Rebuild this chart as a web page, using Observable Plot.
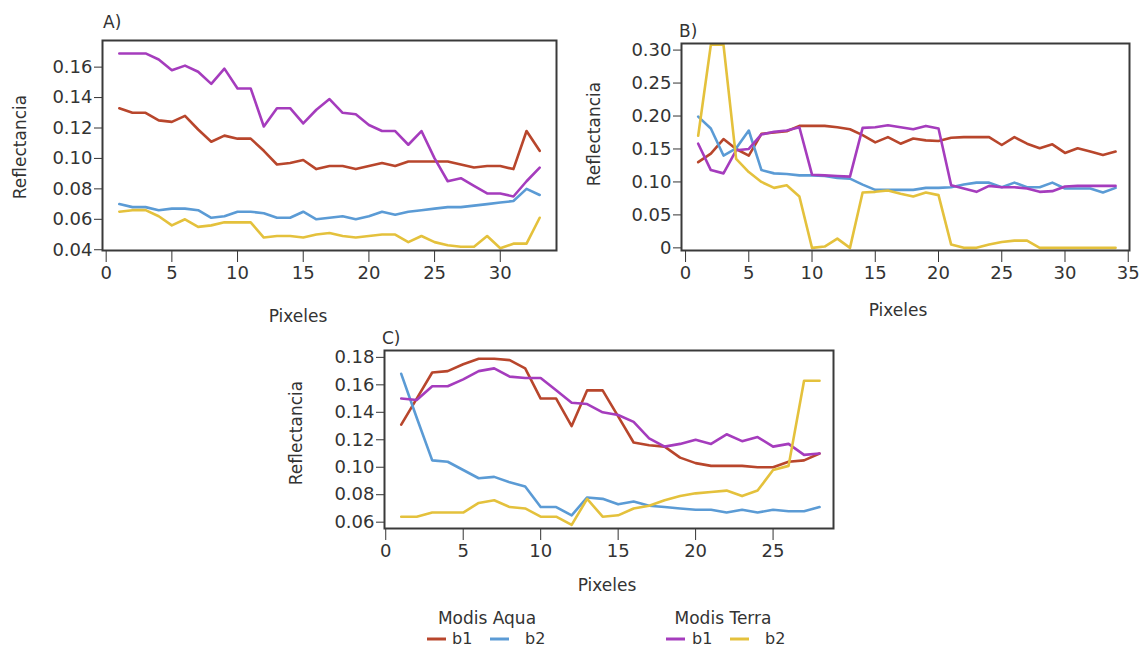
<!DOCTYPE html>
<html>
<head>
<meta charset="utf-8">
<script src="https://cdn.jsdelivr.net/npm/d3@7"></script>
<script src="https://cdn.jsdelivr.net/npm/@observablehq/plot@0.6"></script>
<style>
  html, body { margin: 0; padding: 0; background: #fff; }
  #root { position: relative; width: 1142px; height: 650px; overflow: hidden; font-family: "DejaVu Sans", Verdana, sans-serif; }
  .panel { position: absolute; }
  .panel svg { max-width: none !important; overflow: visible; }
  #overlay { position: absolute; left: 0; top: 0; pointer-events: none; }
</style>
</head>
<body>
<div id="root"></div>
<script>
// ---------------- DATA ----------------
const seriesKeys = ["Aqua b1", "Aqua b2", "Terra b1", "Terra b2"];
const seriesColors = ["#b8462c", "#5b9bd5", "#a53cbd", "#e4c13c"];

// Panel A
const pixelsA = [1,2,3,4,5,6,7,8,9,10,11,12,13,14,15,16,17,18,19,20,21,22,23,24,25,26,27,28,29,30,31,32,33];
const aquaB1_A = [0.133,0.130,0.130,0.125,0.124,0.128,0.119,0.111,0.115,0.113,0.113,0.105,0.096,0.097,0.099,0.093,0.095,0.095,0.093,0.095,0.097,0.095,0.098,0.098,0.098,0.098,0.096,0.094,0.095,0.095,0.093,0.118,0.105];
const aquaB2_A = [0.070,0.068,0.068,0.066,0.067,0.067,0.066,0.061,0.062,0.065,0.065,0.064,0.061,0.061,0.065,0.060,0.061,0.062,0.060,0.062,0.065,0.063,0.065,0.066,0.067,0.068,0.068,0.069,0.070,0.071,0.072,0.080,0.076];
const terraB1_A = [0.169,0.169,0.169,0.165,0.158,0.161,0.157,0.149,0.159,0.146,0.146,0.121,0.133,0.133,0.123,0.132,0.139,0.130,0.129,0.122,0.118,0.118,0.109,0.118,0.100,0.085,0.087,0.082,0.077,0.077,0.075,0.085,0.094];
const terraB2_A = [0.065,0.066,0.066,0.062,0.056,0.060,0.055,0.056,0.058,0.058,0.058,0.048,0.049,0.049,0.048,0.050,0.051,0.049,0.048,0.049,0.050,0.050,0.045,0.049,0.045,0.043,0.042,0.042,0.049,0.041,0.044,0.044,0.061];

// Panel B
const pixelsB = [1,2,3,4,5,6,7,8,9,10,11,12,13,14,15,16,17,18,19,20,21,22,23,24,25,26,27,28,29,30,31,32,33,34];
const aquaB1_B = [0.130,0.143,0.165,0.150,0.140,0.173,0.175,0.177,0.185,0.185,0.185,0.183,0.180,0.171,0.160,0.168,0.158,0.166,0.163,0.162,0.167,0.168,0.168,0.168,0.156,0.168,0.158,0.151,0.157,0.144,0.151,0.146,0.141,0.146];
const aquaB2_B = [0.199,0.181,0.140,0.151,0.178,0.118,0.113,0.112,0.110,0.110,0.109,0.106,0.105,0.096,0.088,0.088,0.088,0.088,0.091,0.091,0.092,0.096,0.099,0.099,0.092,0.099,0.092,0.092,0.099,0.090,0.090,0.090,0.084,0.091];
const terraB1_B = [0.158,0.118,0.113,0.148,0.150,0.172,0.176,0.178,0.183,0.111,0.110,0.109,0.108,0.182,0.183,0.186,0.183,0.180,0.185,0.181,0.095,0.090,0.085,0.094,0.092,0.092,0.090,0.085,0.086,0.093,0.094,0.094,0.094,0.094];
const terraB2_B = [0.170,0.308,0.308,0.135,0.115,0.100,0.091,0.095,0.078,0.000,0.002,0.014,0.000,0.084,0.085,0.087,0.082,0.078,0.084,0.080,0.005,0.000,0.000,0.005,0.009,0.011,0.011,0.000,0.000,0.000,0.000,0.000,0.000,0.000];

// Panel C
const pixelsC = [1,2,3,4,5,6,7,8,9,10,11,12,13,14,15,16,17,18,19,20,21,22,23,24,25,26,27,28];
const aquaB1_C = [0.131,0.150,0.169,0.170,0.175,0.179,0.179,0.178,0.172,0.150,0.150,0.130,0.156,0.156,0.137,0.118,0.116,0.115,0.107,0.103,0.101,0.101,0.101,0.100,0.100,0.104,0.105,0.110];
const aquaB2_C = [0.168,0.136,0.105,0.104,0.098,0.092,0.093,0.089,0.086,0.071,0.071,0.065,0.078,0.077,0.073,0.075,0.072,0.071,0.070,0.069,0.069,0.067,0.069,0.067,0.069,0.068,0.068,0.071];
const terraB1_C = [0.150,0.149,0.159,0.159,0.164,0.170,0.172,0.166,0.165,0.165,0.156,0.147,0.146,0.140,0.138,0.133,0.121,0.115,0.117,0.120,0.117,0.124,0.119,0.122,0.115,0.117,0.109,0.110];
const terraB2_C = [0.064,0.064,0.067,0.067,0.067,0.074,0.076,0.071,0.070,0.064,0.064,0.058,0.077,0.064,0.065,0.070,0.072,0.076,0.079,0.081,0.082,0.083,0.079,0.083,0.098,0.101,0.163,0.163];

// Tick values
const xTicksA = [0,5,10,15,20,25,30];
const yTicksA = [0.04,0.06,0.08,0.10,0.12,0.14,0.16];
const xTicksB = [0,5,10,15,20,25,30,35];
const yTicksB = [0,0.05,0.10,0.15,0.20,0.25,0.30];
const xTicksC = [0,5,10,15,20,25];
const yTicksC = [0.06,0.08,0.10,0.12,0.14,0.16,0.18];

// Texts
const panelLetters = ["A)", "B)", "C)"];
const yLabel = "Reflectancia";
const xLabel = "Pixeles";
const legendGroups = ["Modis Aqua", "Modis Terra"];
const legendItems = ["b1", "b2"];

// ---------------- DRAW ----------------
const root = document.getElementById("root");
const FONT = "DejaVu Sans, Verdana, sans-serif";
const TXT = "#333";

function toRows(xs, arrays) {
  const rows = [];
  arrays.forEach((arr, k) => arr.forEach((v, i) => rows.push({x: xs[i], y: v, key: seriesKeys[k]})));
  return rows;
}

function makePanel(o) {
  const rows = toRows(o.xs, o.arrays);
  const fmt2 = d3.format(".2f");
  const svg = Plot.plot({
    width: o.width, height: o.height,
    marginLeft: o.ml, marginRight: o.mr, marginTop: o.mt, marginBottom: o.mb,
    style: {fontFamily: FONT, fontSize: "18px", color: TXT, background: "transparent", overflow: "visible"},
    x: {domain: o.xDomain, ticks: o.xTicks, tickSize: 12, tickPadding: 4, label: null, tickFormat: d => String(d)},
    y: {domain: o.yDomain, ticks: o.yTicks, tickSize: 8, tickPadding: 2, label: null,
        tickFormat: d => (d === 0 ? "0" : fmt2(d))},
    color: {domain: seriesKeys, range: seriesColors},
    marks: [
      Plot.line(rows, {x: "x", y: "y", z: "key", stroke: "key", strokeWidth: 2.6, strokeLinejoin: "round", strokeLinecap: "round"}),
      Plot.frame({stroke: "#3a3a3a", strokeWidth: 2})
    ]
  });
  const div = document.createElement("div");
  div.className = "panel";
  div.style.left = o.left + "px";
  div.style.top = o.top + "px";
  div.style.width = o.width + "px";
  div.style.height = o.height + "px";
  div.appendChild(svg);
  root.appendChild(div);
}

// Panel A: frame x 102..556, y 40..250
makePanel({left: 0, top: 0, width: 580, height: 300, ml: 102, mr: 24, mt: 40, mb: 50,
  xs: pixelsA, arrays: [aquaB1_A, aquaB2_A, terraB1_A, terraB2_A],
  xDomain: [-0.28, 34.28], yDomain: [0.0395, 0.1775], xTicks: xTicksA, yTicks: yTicksA});

// Panel B: frame x 681..1129, y 43..250
makePanel({left: 580, top: 0, width: 562, height: 300, ml: 101, mr: 13, mt: 43, mb: 50,
  xs: pixelsB, arrays: [aquaB1_B, aquaB2_B, terraB1_B, terraB2_B],
  xDomain: [-0.32, 35.1], yDomain: [-0.004, 0.31], xTicks: xTicksB, yTicks: yTicksB});

// Panel C: frame x 384..833, y 350..528
makePanel({left: 280, top: 300, width: 570, height: 280, ml: 104, mr: 17, mt: 50, mb: 52,
  xs: pixelsC, arrays: [aquaB1_C, aquaB2_C, terraB1_C, terraB2_C],
  xDomain: [-0.08, 28.9], yDomain: [0.0554, 0.185], xTicks: xTicksC, yTicks: yTicksC});

// Overlay texts and legend
const ov = d3.select(root).append("svg").attr("id", "overlay")
  .attr("width", 1142).attr("height", 650)
  .attr("font-family", FONT).attr("fill", TXT);

const letterPos = [[103, 28], [679, 37], [382, 344]];
panelLetters.forEach((t, i) => ov.append("text").attr("x", letterPos[i][0]).attr("y", letterPos[i][1])
  .attr("font-size", 17).text(t));

const yLabPos = [[20, 147], [594, 134], [296, 433]];
yLabPos.forEach(([cx, cy]) => ov.append("text")
  .attr("transform", `translate(${cx},${cy}) rotate(-90)`)
  .attr("text-anchor", "middle").attr("dy", "0.35em").attr("font-size", 17).text(yLabel));

const xLabPos = [[298, 322], [898, 316], [607, 591]];
xLabPos.forEach(([cx, by]) => ov.append("text").attr("x", cx).attr("y", by)
  .attr("text-anchor", "middle").attr("font-size", 17).text(xLabel));

// Legend
const groupCenters = [487, 723];
const swatchX = [[427, 490], [666, 730]];
const labelX = [[452, 525], [692, 765]];
legendGroups.forEach((g, gi) => {
  ov.append("text").attr("x", groupCenters[gi]).attr("y", 624).attr("text-anchor", "middle")
    .attr("font-size", 17).text(g);
  legendItems.forEach((it, ii) => {
    const k = gi * 2 + ii;
    ov.append("line").attr("x1", swatchX[gi][ii]).attr("x2", swatchX[gi][ii] + 19)
      .attr("y1", 639).attr("y2", 639).attr("stroke", seriesColors[k]).attr("stroke-width", 3);
    ov.append("text").attr("x", labelX[gi][ii]).attr("y", 644).attr("font-size", 16).text(it);
  });
});
</script>
</body>
</html>
